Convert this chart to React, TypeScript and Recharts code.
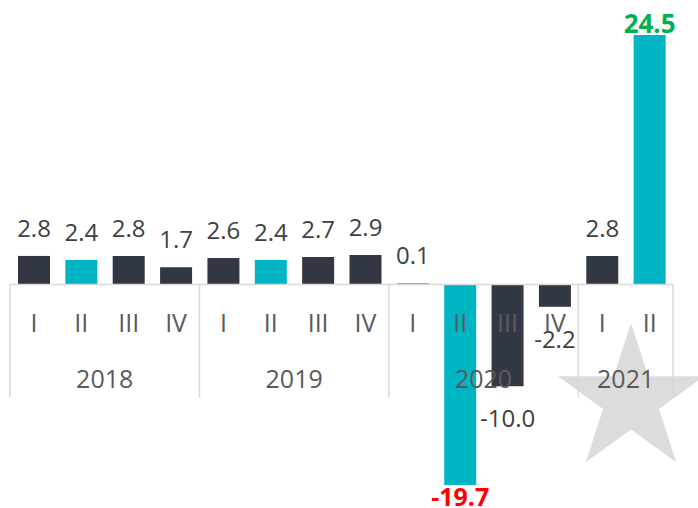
import React from 'react';
import { BarChart, Bar, XAxis, YAxis, Cell, LabelList, ReferenceLine } from 'recharts';

const quarters = ['I', 'II', 'III', 'IV', 'I', 'II', 'III', 'IV', 'I', 'II', 'III', 'IV', 'I', 'II'];
const years = ['2018', '2019', '2020', '2021'];
const quartersPerYear = [4, 4, 4, 2];
const growth = [2.8, 2.4, 2.8, 1.7, 2.6, 2.4, 2.7, 2.9, 0.1, -19.7, -10.0, -2.2, 2.8, 24.5];

const DARK = '#313843';
const TEAL = '#00b5c3';
const GRID = '#d9d9d9';
const FONT = "'Open Sans', 'Noto Sans', sans-serif";

const data = quarters.map((q, i) => ({ key: `${q}-${i}`, quarter: q, value: growth[i] }));
const maxV = Math.max(...growth);
const minV = Math.min(...growth);

const box = (p: any) => {
  const x = p.x ?? p.viewBox?.x;
  const y = p.y ?? p.viewBox?.y;
  const w = p.width ?? p.viewBox?.width;
  const h = p.height ?? p.viewBox?.height;
  return { x: Number(x), y: Number(y), w: Number(w), h: Number(h) };
};

const renderValue = (p: any) => {
  const { x, y, w, h } = box(p);
  const v = growth[p.index];
  const top = Math.min(y, y + h);
  const bottom = Math.max(y, y + h);
  const cx = x + w / 2;
  const txt = v.toFixed(1);
  if (v === maxV) {
    return (
      <text x={cx} y={top - 2} textAnchor="middle" fontFamily={FONT} fontSize={26} fontWeight={700} fill="#00b050">{txt}</text>
    );
  }
  if (v === minV) {
    return (
      <text x={cx} y={bottom + 21} textAnchor="middle" fontFamily={FONT} fontSize={25} fontWeight={700} fill="#ff0000">{txt}</text>
    );
  }
  return (
    <text x={cx} y={v >= 0 ? top - 19 : bottom + 41} textAnchor="middle" fontFamily={FONT} fontSize={24} fill="#404040">{txt}</text>
  );
};

const renderQuarter = (p: any) => {
  const { x, y, w, h } = box(p);
  const v = growth[p.index];
  const top = Math.min(y, y + h);
  const bottom = Math.max(y, y + h);
  const zero = v >= 0 ? bottom : top;
  return (
    <text x={x + w / 2} y={zero + 48} textAnchor="middle" fontFamily={FONT} fontSize={25} fill="#5a5a5a">{quarters[p.index]}</text>
  );
};

const renderAxis = (p: any) => {
  const vb = p.viewBox || {};
  const x0 = Number(vb.x);
  const zero = Number(vb.y);
  const band = Number(vb.width) / quarters.length;
  const els: any[] = [];
  let start = 0;
  els.push(<line key="s0" x1={x0} x2={x0} y1={zero} y2={zero + 113} stroke={GRID} strokeWidth={1.5} />);
  years.forEach((yr, gi) => {
    const n = quartersPerYear[gi];
    const xs = x0 + start * band;
    const xe = x0 + (start + n) * band;
    els.push(
      <text key={`y${gi}`} x={(xs + xe) / 2} y={zero + 104} textAnchor="middle" fontFamily={FONT} fontSize={25} fill="#5a5a5a">{yr}</text>
    );
    els.push(<line key={`s${gi + 1}`} x1={xe} x2={xe} y1={zero} y2={zero + 113} stroke={GRID} strokeWidth={1.5} />);
    start += n;
  });
  return <g>{els}</g>;
};

const starPoints = (cx: number, cy: number, R: number, r: number) => {
  const pts: string[] = [];
  for (let i = 0; i < 10; i++) {
    const a = (-90 + i * 36) * (Math.PI / 180);
    const rad = i % 2 === 0 ? R : r;
    pts.push(`${cx + rad * Math.cos(a)},${cy + rad * Math.sin(a)}`);
  }
  return pts.join(' ');
};

export default function App() {
  return (
    <div style={{ position: 'absolute', left: 0, top: 0, width: 698, height: 508, background: '#fff' }}>
      <svg width={698} height={508} style={{ position: 'absolute', left: 0, top: 0 }}>
        <polygon points={starPoints(631, 400, 77, 29.4)} fill="#dcdcdc" />
      </svg>
      <div style={{ position: 'absolute', left: 0, top: 0 }}>
        <BarChart width={698} height={508} data={data} margin={{ top: 35, right: 25, bottom: 23, left: 10 }}>
          <XAxis dataKey="key" hide />
          <YAxis type="number" domain={[minV, maxV]} hide allowDataOverflow />
          <Bar dataKey="value" barSize={32} isAnimationActive={false}>
            {data.map((d, i) => (
              <Cell key={i} fill={d.quarter === 'II' ? TEAL : DARK} />
            ))}
            <LabelList dataKey="value" content={renderValue} />
            <LabelList dataKey="quarter" content={renderQuarter} />
          </Bar>
          <ReferenceLine y={0} stroke={GRID} strokeWidth={1.5} ifOverflow="extendDomain" label={renderAxis} />
        </BarChart>
      </div>
    </div>
  );
}
